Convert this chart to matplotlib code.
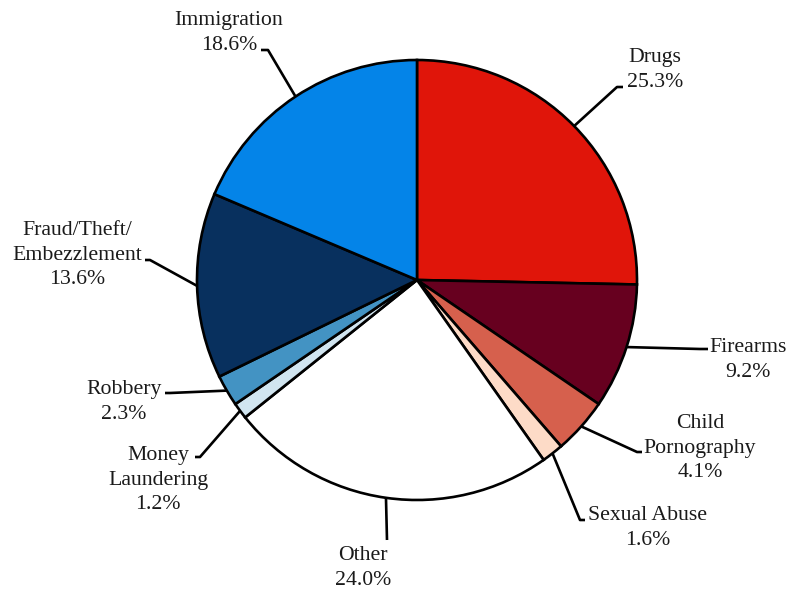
import numpy as np
import matplotlib
matplotlib.use("Agg")
import matplotlib.pyplot as plt

# data, clockwise from 12 o'clock
categories = ["Drugs", "Firearms", "Child\nPornography", "Sexual Abuse", "Other",
              "Money\nLaundering", "Robbery", "Fraud/Theft/\nEmbezzlement", "Immigration"]
shares = [25.3, 9.2, 4.1, 1.6, 24.0, 1.2, 2.3, 13.6, 18.6]
colors = ["#E0150A", "#67001F", "#D6604D", "#FDDBC7", "#FFFFFF",
          "#D1E5F0", "#4393C3", "#08305E", "#0484E8"]

W, H = 789, 592


def py(y):
    # pixel row -> axis y (y up)
    return H - y


# label layout in pixels: text centre, elbow point, stub end
layout = [
    ((655, 70), (617, 87), (623, 87)),
    ((748, 360), (700, 349), (708, 349)),
    ((700, 448), (637, 452), (642, 452)),
    ((648, 528), (580, 520), (585, 520)),
    ((363, 568), (387, 540), None),
    ((158, 480), (200, 457), (195, 457)),
    ((124, 402), (170, 393), (165, 393)),
    ((77, 255), (150, 260), (145, 260)),
    ((229, 33), (268, 50), (261, 50)),
]

plt.rcParams["font.family"] = ["Liberation Serif", "DejaVu Serif"]

fig = plt.figure(figsize=(W / 100, H / 100), dpi=100)
ax = fig.add_axes([0, 0, 1, 1])

cx, cy, r = 417, py(280), 220
wedges, _ = ax.pie(shares, colors=colors, startangle=90, counterclock=False,
                   center=(cx, cy), radius=r,
                   wedgeprops=dict(edgecolor="black", linewidth=1.9))
ax.set_xlim(0, W)
ax.set_ylim(0, H)
ax.set_aspect("equal")
ax.axis("off")

for w, cat, val, (tc, elbow, stub) in zip(wedges, categories, shares, layout):
    mid = np.deg2rad((w.theta1 + w.theta2) / 2)
    x0, y0 = cx + r * np.cos(mid), cy + r * np.sin(mid)
    xs = [x0, elbow[0]]
    ys = [y0, py(elbow[1])]
    if stub is not None:
        xs.append(stub[0])
        ys.append(py(stub[1]))
    ax.plot(xs, ys, color="black", lw=1.9, solid_capstyle="butt", zorder=3)
    ax.text(tc[0], py(tc[1]), "%s\n%.1f%%" % (cat, val), ha="center", va="center",
            fontsize=15.7, linespacing=1.36, color="#1a1a1a")

fig.savefig("out.png", dpi=100)
